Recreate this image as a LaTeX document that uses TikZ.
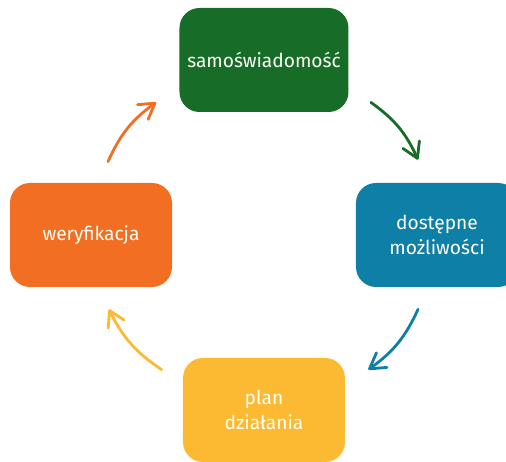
\documentclass[tikz,border=0pt]{standalone}
\usepackage{fontspec}
\setmainfont{Fira Sans}
\usetikzlibrary{arrows.meta}
\definecolor{stepgreen}{RGB}{23,108,40}
\definecolor{stepteal}{RGB}{14,127,166}
\definecolor{stepyellow}{RGB}{252,186,50}
\definecolor{steporange}{RGB}{242,110,34}

\begin{document}
\begin{tikzpicture}[
  box/.style={rounded corners=0.4cm, minimum width=3.24cm, minimum height=2.08cm,
    inner sep=2pt, text=white!96!yellow, align=center, font=\fontsize{10.9}{14.5}\selectfont},
  arr/.style={line width=1.6pt, line cap=round, bend left=15,
    -{Straight Barb[length=3mm, width=3.6mm, line cap=round, line join=round]}}
]
\useasboundingbox (0,0) rectangle (10.12,9.24);

% The four steps of the cycle
\node[box, fill=stepgreen, minimum width=3.38cm] (self) at (5.28,8.04) {samoświadomość};
\node[box, fill=stepteal] (options) at (8.74,4.54) {dostępne\\możliwości};
\node[box, fill=stepyellow] (plan) at (5.28,1.04) {plan\\działania};
\node[box, fill=steporange] (check) at (1.82,4.54) {weryfikacja};

% Arrows between the steps
\draw[arr, stepgreen] ([shift={(0.44,0.20)}]self.south east)
  to ([shift={(-0.38,0.46)}]options.north);
\draw[arr, stepteal] ([shift={(-0.38,-0.44)}]options.south)
  to ([shift={(0.46,-0.24)}]plan.north east);
\draw[arr, stepyellow] ([shift={(-0.42,-0.24)}]plan.north west)
  to ([shift={(0.36,-0.44)}]check.south);
\draw[arr, steporange] ([shift={(0.34,0.42)}]check.north)
  to ([shift={(-0.46,0.20)}]self.south west);
\end{tikzpicture}
\end{document}
